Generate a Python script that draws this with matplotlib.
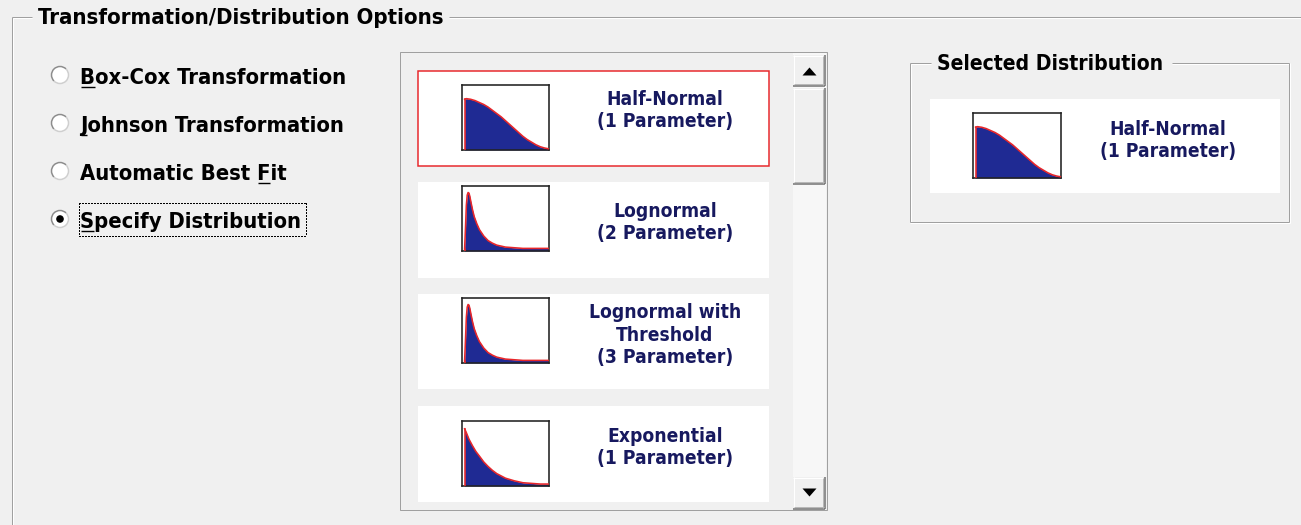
import matplotlib
matplotlib.use("Agg")
import matplotlib.pyplot as plt
from matplotlib.patches import Rectangle, Circle, Polygon, Arc

# ---------------- data ----------------
panel_title = "Transformation/Distribution Options"
radio_labels = ["Box-Cox Transformation", "Johnson Transformation",
                "Automatic Best Fit", "Specify Distribution"]
radio_hotkeys = [0, 0, 15, 0]          # index of the underlined (mnemonic) letter
radio_selected = 3
dist_names = [["Half-Normal", "(1 Parameter)"],
              ["Lognormal", "(2 Parameter)"],
              ["Lognormal with", "Threshold", "(3 Parameter)"],
              ["Exponential", "(1 Parameter)"]]
dist_highlight = 0
selected_title = "Selected Distribution"
selected_name = ["Half-Normal", "(1 Parameter)"]

halfnormal_x = [0.03, 0.05, 0.10, 0.15, 0.20, 0.25, 0.30, 0.35, 0.40, 0.45, 0.50,
                0.55, 0.60, 0.65, 0.70, 0.75, 0.80, 0.85, 0.90, 0.95, 0.99]
halfnormal_y = [0.78, 0.79, 0.78, 0.76, 0.73, 0.70, 0.66, 0.61, 0.56, 0.51, 0.45,
                0.39, 0.33, 0.27, 0.21, 0.16, 0.12, 0.08, 0.05, 0.03, 0.02]
lognormal_x = [0.03, 0.04, 0.05, 0.06, 0.07, 0.08, 0.09, 0.10, 0.12, 0.14, 0.17,
               0.20, 0.25, 0.30, 0.35, 0.40, 0.50, 0.60, 0.70, 0.80, 0.90, 0.99]
lognormal_y = [0.03, 0.35, 0.70, 0.86, 0.90, 0.89, 0.84, 0.77, 0.64, 0.53, 0.42,
               0.33, 0.23, 0.16, 0.12, 0.09, 0.06, 0.05, 0.04, 0.04, 0.04, 0.04]
exponential_x = [0.03, 0.05, 0.08, 0.12, 0.16, 0.20, 0.25, 0.30, 0.35, 0.40, 0.50,
                 0.60, 0.70, 0.80, 0.90, 0.99]
exponential_y = [0.88, 0.82, 0.72, 0.62, 0.53, 0.46, 0.37, 0.30, 0.24, 0.19, 0.12,
                 0.08, 0.05, 0.04, 0.03, 0.03]
dist_curves = [(halfnormal_x, halfnormal_y), (lognormal_x, lognormal_y),
               (lognormal_x, lognormal_y), (exponential_x, exponential_y)]
selected_curve = (halfnormal_x, halfnormal_y)

# ---------------- layout / style ----------------
W, H = 1301, 525
BG = "#F0F0F0"
EDGE = "#A0A0A0"
NAVY = "#17195F"
FILL = "#1F2A93"
RED = "#E8262A"
FONT = "DejaVu Sans"
STRETCH = "condensed"
PX = 0.72  # 1 pixel in points at dpi 100

fig = plt.figure(figsize=(W / 100, H / 100), dpi=100, facecolor=BG)
ax = fig.add_axes([0, 0, 1, 1])
ax.set_xlim(0, W)
ax.set_ylim(H, 0)
ax.axis("off")
ax.set_facecolor(BG)
r = fig.canvas.get_renderer()
TXT = dict(family=FONT, weight="bold", stretch=STRETCH)


def hline(x0, x1, y, c=EDGE, lw=1, z=2, **kw):
    ax.plot([x0, x1], [y, y], color=c, lw=lw * PX, zorder=z, solid_capstyle="butt", **kw)


def vline(x, y0, y1, c=EDGE, lw=1, z=2, **kw):
    ax.plot([x, x], [y0, y1], color=c, lw=lw * PX, zorder=z, solid_capstyle="butt", **kw)


def width_of(s, fs):
    t = ax.text(0, 0, s, fontsize=fs, **TXT)
    w = t.get_window_extent(r).width
    t.remove()
    return w


def fit_size(s, target_w):
    return 12 * target_w / width_of(s, 12)


def etched_group(x0, y0, x1, y1, title, tx, gap_end, fs):
    hline(x0, tx - 6, y0)
    hline(gap_end, x1, y0)
    hline(x0 + 1, tx - 6, y0 + 1, c="white")
    hline(gap_end, x1, y0 + 1, c="white")
    vline(x0, y0, y1)
    vline(x0 + 1, y0 + 1, y1, c="white")
    if y1 < H:
        hline(x0, x1, y1)
        hline(x0, x1 + 1, y1 + 1, c="white")
        vline(x1, y0, y1)
        vline(x1 + 1, y0, y1 + 1, c="white")
    ax.text(tx, y0 + 7.5, title, fontsize=fs, color="black", ha="left",
            va="baseline", zorder=3, **TXT)


# outer group box
fs_title = fit_size(panel_title, 404)
etched_group(12, 17, W + 5, H + 5, panel_title, 38, 449, fs_title)

# radio buttons (one font size, fitted to the mean of the label widths)
radio_widths = [273, 271, 203, 213]
fs_radio = sum(fit_size(s, w) for s, w in zip(radio_labels, radio_widths)) / len(radio_labels)
radio_y = [75, 123, 171, 219]
for i, (lab, yc) in enumerate(zip(radio_labels, radio_y)):
    ax.add_patch(Circle((60, yc), 8.5, facecolor="white", edgecolor="none", zorder=3))
    ax.add_patch(Arc((60, yc), 17, 17, theta1=135, theta2=315, color="#8C8C8C", lw=1.5 * PX, zorder=4))
    ax.add_patch(Arc((60, yc), 17, 17, theta1=-45, theta2=135, color="#CFCFCF", lw=1.5 * PX, zorder=4))
    if i == radio_selected:
        ax.add_patch(Circle((60, yc), 3.8, facecolor="black", edgecolor="none", zorder=5))
    ax.text(80, yc + 8.5, lab, fontsize=fs_radio, color="black", ha="left",
            va="baseline", zorder=3, **TXT)
    k = radio_hotkeys[i]
    wpre = width_of(lab[:k], fs_radio) if k > 0 else 0
    wlet = width_of(lab[k], fs_radio)
    hline(80 + wpre + 0.5, 80 + wpre + wlet - 0.5, yc + 12, c="black", lw=1.4, z=4)

# focus rectangle (dotted) wrapping the selected radio label
sel_w = width_of(radio_labels[radio_selected], fs_radio)
yc = radio_y[radio_selected]
fx0, fy0, fx1, fy1 = 78.5, yc - 16.5, 80 + sel_w + 4.5, yc + 16.5
for (a, b) in [((fx0, fy0), (fx1, fy0)), ((fx0, fy1), (fx1, fy1)),
               ((fx0, fy0), (fx0, fy1)), ((fx1, fy0), (fx1, fy1))]:
    ax.plot([a[0], b[0]], [a[1], b[1]], color="black", lw=1.0, linestyle=(0, (1, 1)),
            antialiased=False, zorder=4)

# list box
ax.add_patch(Rectangle((400, 52), 427, 458, facecolor=BG, edgecolor=EDGE, lw=1 * PX, zorder=2))
item_top = [71, 182, 294, 406]
item_bot = [166, 278, 389, 502]
thumb_top = [85, 186, 298, 421]
text_base = [[105, 127], [217, 239], [318, 341, 363], [442, 464]]
fs_item = fit_size("(1 Parameter)", 135)


def thumb(x0, y0, w, h, curve):
    a = fig.add_axes([x0 / W, 1 - (y0 + h) / H, w / W, h / H])
    a.set_xlim(0, 1)
    a.set_ylim(0, 1)
    a.set_xticks([])
    a.set_yticks([])
    a.set_facecolor("white")
    for s in a.spines.values():
        s.set_color("#222222")
        s.set_linewidth(1.6 * PX)
    xs, ys = curve
    a.fill_between(xs, ys, 0, color=FILL, lw=0, zorder=2)
    a.plot(xs, ys, color=RED, lw=1.6 * PX, zorder=3)
    a.plot([xs[0], xs[0]], [0, ys[0]], color=RED, lw=1.6 * PX, zorder=3)
    return a


for i in range(len(dist_names)):
    y0, y1 = item_top[i], item_bot[i]
    ec = RED if i == dist_highlight else "none"
    ax.add_patch(Rectangle((418, y0), 351, y1 - y0, facecolor="white", edgecolor=ec,
                           lw=1.5 * PX, zorder=3))
    thumb(462, thumb_top[i], 87, 65, dist_curves[i])
    for line, yb in zip(dist_names[i], text_base[i]):
        ax.text(665, yb, line, fontsize=fs_item, color=NAVY, ha="center",
                va="baseline", zorder=4, **TXT)

# scrollbar
ax.add_patch(Rectangle((793, 53), 33, 456, facecolor="#F7F7F7", edgecolor="none", zorder=3))


def raised(x0, y0, x1, y1):
    ax.add_patch(Rectangle((x0, y0), x1 - x0, y1 - y0, facecolor=BG, edgecolor="none", zorder=4))
    hline(x0, x1, y0 + 0.5, c="white", z=5)
    vline(x0 + 0.5, y0, y1, c="white", z=5)
    hline(x0, x1, y1 - 0.5, c="#707070", lw=1.5, z=5)
    vline(x1 - 0.5, y0, y1, c="#707070", lw=1.5, z=5)
    hline(x0 + 1, x1 - 1, y1 - 2, c="#B8B8B8", z=5)
    vline(x1 - 2, y0 + 1, y1 - 1, c="#B8B8B8", z=5)


raised(793, 55, 825, 86)
raised(793, 88, 825, 184)
raised(793, 477, 825, 509)
ax.add_patch(Polygon([[802.5, 75.5], [816.5, 75.5], [809.5, 67.5]], closed=True, facecolor="black",
                     edgecolor="none", zorder=6))
ax.add_patch(Polygon([[802.5, 488.5], [816.5, 488.5], [809.5, 496.5]], closed=True, facecolor="black",
                     edgecolor="none", zorder=6))

# selected distribution group
fs_sel = fit_size(selected_title, 226)
etched_group(910, 63, 1289, 222, selected_title, 937, 1172, fs_sel)
ax.add_patch(Rectangle((930, 99), 350, 94, facecolor="white", edgecolor="none", zorder=3))
thumb(973, 113, 88, 65, selected_curve)
for line, yb in zip(selected_name, [135, 157]):
    ax.text(1168, yb, line, fontsize=fs_item, color=NAVY, ha="center",
            va="baseline", zorder=4, **TXT)

fig.savefig("out.png", dpi=100, facecolor=BG)
